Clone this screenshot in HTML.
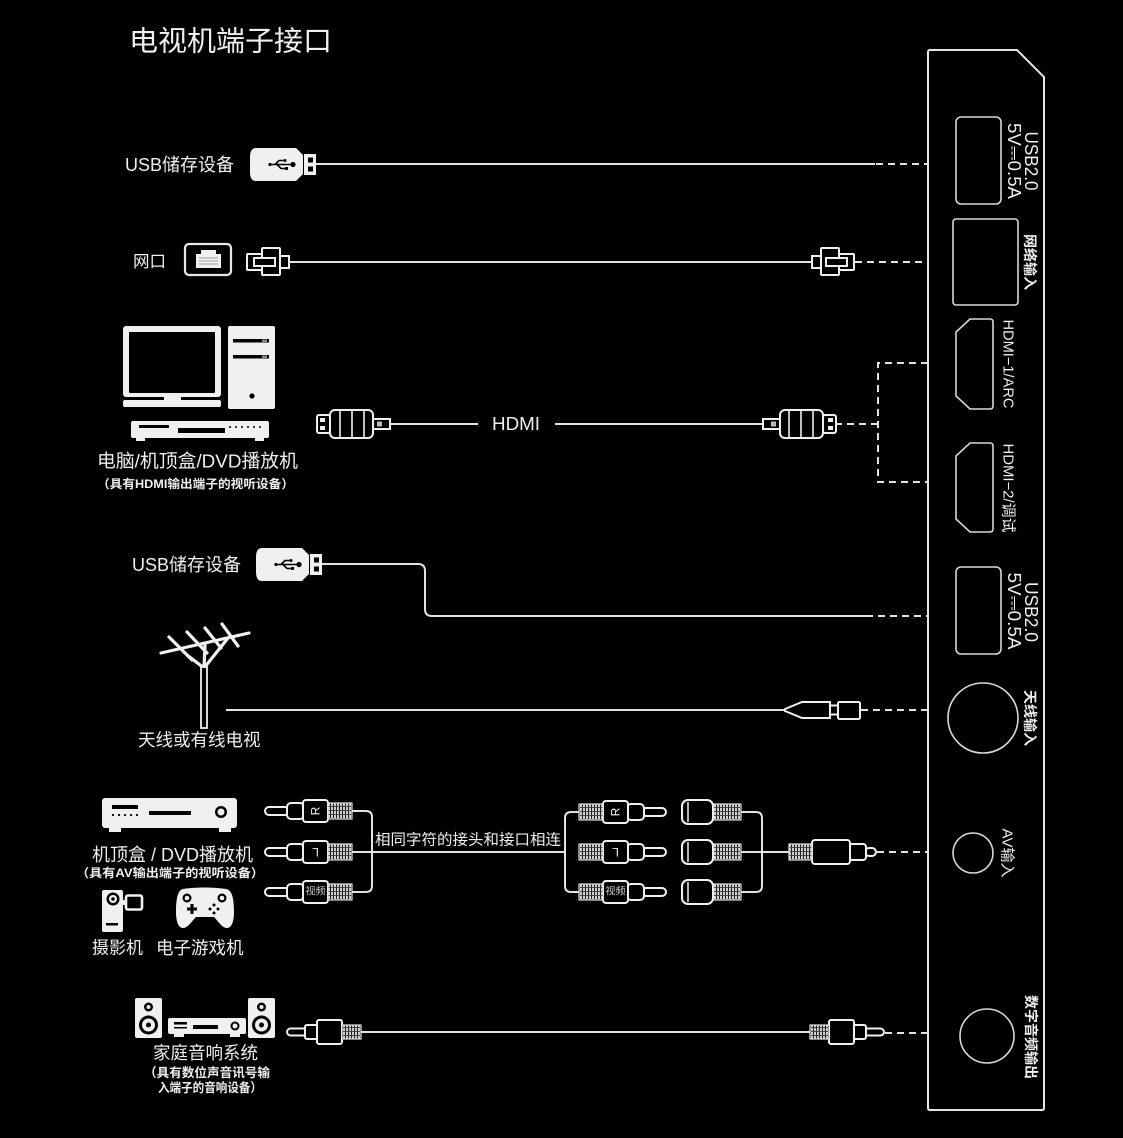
<!DOCTYPE html>
<html><head><meta charset="utf-8"><style>
html,body{margin:0;padding:0;background:#000;}
svg{display:block;}
.t{font-family:"Liberation Sans","Noto Sans CJK SC",sans-serif;fill:#efefef;}
.ln{stroke:#e2e2e2;stroke-width:2;fill:none;}
.ds{stroke:#e2e2e2;stroke-width:2;fill:none;stroke-dasharray:7 5;}
.o{stroke:#f0f0f0;stroke-width:2;fill:#000;}
.p{stroke:#d8d8d8;stroke-width:1.6;fill:none;}
.w{fill:#f0f0f0;}
.k{fill:#000;}
</style></head><body>
<svg width="1123" height="1138" viewBox="0 0 1123 1138" xmlns="http://www.w3.org/2000/svg">
<defs>
<pattern id="kn" width="3" height="4" patternUnits="userSpaceOnUse"><rect width="3" height="4" fill="#1a1a1a"/><rect width="2" height="4" fill="#cfcfcf"/><rect y="3" width="3" height="1" fill="#444"/></pattern>
<g id="rca">
 <rect x="-87" y="-4" width="24" height="8" rx="4" class="o"/>
 <rect x="-65" y="-8" width="17" height="16" rx="4" class="o"/>
 <rect x="-49" y="-11" width="25" height="22" rx="3" class="o"/>
 <rect x="-24" y="-8" width="24" height="16" fill="url(#kn)" stroke="#e0e0e0" stroke-width="1.2"/>
</g>
<g id="fem">
 <rect x="-28" y="-8" width="28" height="16" fill="url(#kn)" stroke="#e0e0e0" stroke-width="1.2"/>
 <rect x="-59" y="-12" width="31" height="24" rx="6" class="o"/>
 <line x1="-53" y1="-10" x2="-53" y2="10" stroke="#f0f0f0" stroke-width="1.5"/>
</g>
<g id="hdmi">
 <rect x="-17" y="-5" width="17" height="10" class="o"/>
 <rect x="-13" y="-2.5" width="5" height="5" fill="#bbb"/>
 <rect x="-60" y="-14" width="43" height="28" rx="5" class="o"/>
 <line x1="-50" y1="-14" x2="-50" y2="14" stroke="#f0f0f0" stroke-width="1.6"/>
 <line x1="-38" y1="-14" x2="-38" y2="14" stroke="#f0f0f0" stroke-width="1.6"/>
 <line x1="-26" y1="-14" x2="-26" y2="14" stroke="#f0f0f0" stroke-width="1.6"/>
 <rect x="-73" y="-9" width="13" height="18" rx="2" class="o"/>
 <rect x="-70" y="-6" width="5" height="4" class="w"/>
 <rect x="-70" y="2" width="5" height="4" class="w"/>
</g>
<g id="rj">
 <rect x="-42" y="-8" width="15" height="16" rx="1" class="o"/>
 <rect x="-27" y="-14" width="18" height="27" rx="1" class="o"/>
 <rect x="-9" y="-6" width="9" height="12" class="o"/>
 <rect x="-35" y="-4" width="21" height="8" class="o"/>
</g>
<g id="opt">
 <rect x="-74" y="-3.5" width="20" height="7" rx="3.5" class="o"/>
 <rect x="-56" y="-7" width="13" height="14" rx="2" class="o"/>
 <rect x="-44" y="-12" width="25" height="24" rx="2" class="o"/>
 <rect x="-19" y="-7" width="19" height="14" fill="url(#kn)" stroke="#e0e0e0" stroke-width="1.2"/>
</g>
<g id="usb">
 <path d="M6,0 H46 L53,7 V26 L46,33 H6 Q0,33 0,24 V9 Q0,0 6,0 Z" class="w"/>
 <g stroke="#000" stroke-width="1.6" fill="none">
  <line x1="20" y1="16.5" x2="41" y2="16.5"/>
  <polyline points="25,16.5 29,12.5 34,12.5"/>
  <polyline points="27,16.5 31,20.5 35,20.5"/>
 </g>
 <circle cx="43" cy="16.5" r="2.6" class="k"/>
 <circle cx="35" cy="12.5" r="1.5" class="k"/>
 <rect x="35" y="19" width="3" height="3" class="k"/>
 <circle cx="20" cy="16.5" r="1.6" class="k"/>
 <rect x="54" y="6" width="12" height="21" class="w"/>
 <rect x="58" y="9.5" width="5" height="5" class="k"/>
 <rect x="58" y="18.5" width="5" height="5" class="k"/>
</g>
</defs>
<rect width="1123" height="1138" fill="#000"/>

<!-- Title -->
<text class="t" x="129" y="41" font-size="28" dominant-baseline="central" textLength="203" lengthAdjust="spacingAndGlyphs">电视机端子接口</text>

<!-- TV panel -->
<path d="M928,52 Q928,50 930,50 H1017 L1044,77 V1108 Q1044,1110 1042,1110 H930 Q928,1110 928,1108 Z" fill="none" stroke="#e4e4e4" stroke-width="2"/>
<rect x="956" y="117" width="45" height="87" rx="5" class="p"/>
<rect x="953" y="219" width="65" height="86" rx="3" class="p"/>
<path d="M970,319 H990 Q993,319 993,322 V406 Q993,409 990,409 H970 L956,396 V332 Z" class="p"/>
<path d="M970,443 H990 Q993,443 993,446 V529 Q993,532 990,532 H970 L956,519 V456 Z" class="p"/>
<rect x="956" y="567" width="45" height="87" rx="5" class="p"/>
<circle cx="983" cy="718" r="35" class="p"/>
<circle cx="973" cy="853" r="20" class="p"/>
<circle cx="987" cy="1036" r="27" class="p"/>

<!-- panel labels -->
<g class="t" text-anchor="middle" dominant-baseline="central">
<text transform="translate(1031,161) rotate(90)" font-size="18" textLength="59" lengthAdjust="spacingAndGlyphs">USB2.0</text>
<text transform="translate(1014,161) rotate(90)" font-size="18" textLength="76" lengthAdjust="spacingAndGlyphs">5V⎓0.5A</text>
<text transform="translate(1030,262) rotate(90)" font-size="14" font-weight="bold">网络输入</text>
<text transform="translate(1008,364) rotate(90)" font-size="15" textLength="89" lengthAdjust="spacingAndGlyphs">HDMI−1/ARC</text>
<text transform="translate(1008,488) rotate(90)" font-size="15" textLength="89" lengthAdjust="spacingAndGlyphs">HDMI−2/调试</text>
<text transform="translate(1031,612) rotate(90)" font-size="18" textLength="60" lengthAdjust="spacingAndGlyphs">USB2.0</text>
<text transform="translate(1014,611) rotate(90)" font-size="18" textLength="77" lengthAdjust="spacingAndGlyphs">5V⎓0.5A</text>
<text transform="translate(1030,718) rotate(90)" font-size="14" font-weight="bold">天线输入</text>
<text transform="translate(1007,853) rotate(90)" font-size="15">AV输入</text>
<text transform="translate(1031,1037) rotate(90)" font-size="14" font-weight="bold">数字音频输出</text>
</g>

<!-- Row 1: USB -->
<text class="t" x="125" y="165" font-size="18" dominant-baseline="central">USB储存设备</text>
<use href="#usb" transform="translate(250,148)"/>
<line x1="316" y1="164" x2="875" y2="164" class="ln"/>
<line x1="876" y1="164" x2="928" y2="164" class="ds"/>

<!-- Row 2: Network -->
<text class="t" x="133" y="262" font-size="16.5" dominant-baseline="central">网口</text>
<rect x="185" y="244" width="46" height="31" rx="4" fill="#000" stroke="#e8e8e8" stroke-width="2.2"/>
<path d="M196,268 V254 H201 V250 H216 V254 H221 V268 Z" class="w"/>
<g stroke="#888" stroke-width="0.8"><line x1="199" y1="258" x2="218" y2="258"/><line x1="199" y1="261" x2="218" y2="261"/><line x1="199" y1="264" x2="218" y2="264"/></g>
<use href="#rj" transform="translate(289,262)"/>
<line x1="289" y1="262" x2="812" y2="262" class="ln"/>
<use href="#rj" transform="translate(812,262) scale(-1,1)"/>
<line x1="855" y1="262" x2="928" y2="262" class="ds"/>

<!-- Row 3: HDMI devices -->
<rect x="123" y="326" width="98" height="71" rx="3" class="w"/>
<rect x="129" y="332" width="86" height="61" rx="1" class="k"/>
<rect x="164" y="396" width="17" height="5" class="w"/>
<rect x="123" y="400" width="98" height="7" rx="2" class="w"/>
<rect x="228" y="326" width="47" height="83" rx="2" class="w"/>
<rect x="233" y="339" width="36" height="3.5" class="k"/>
<rect x="233" y="355" width="36" height="3.5" class="k"/>
<rect x="262" y="339.5" width="5" height="2.5" fill="#888"/>
<rect x="262" y="355.5" width="5" height="2.5" fill="#888"/>
<circle cx="252" cy="396" r="2.6" class="k"/>
<rect x="131" y="421" width="138" height="17" rx="2" class="w"/>
<rect x="139" y="425" width="30" height="3" class="k"/>
<rect x="178" y="428" width="47" height="5" class="k"/>
<g class="k"><circle cx="230" cy="427" r="1"/><circle cx="236" cy="427" r="1"/><circle cx="242" cy="427" r="1"/><circle cx="248" cy="427" r="1"/><circle cx="254" cy="427" r="1"/><circle cx="260" cy="427" r="1"/></g>
<rect x="136" y="437" width="9" height="4" class="w"/>
<rect x="255" y="437" width="9" height="4" class="w"/>
<text class="t" x="97" y="461" font-size="18.5" dominant-baseline="central" textLength="201" lengthAdjust="spacingAndGlyphs">电脑/机顶盒/DVD播放机</text>
<text class="t" x="97" y="484" font-size="12" font-weight="bold" dominant-baseline="central" textLength="197" lengthAdjust="spacingAndGlyphs">（具有HDMI输出端子的视听设备）</text>

<use href="#hdmi" transform="translate(390,424)"/>
<line x1="390" y1="424" x2="478" y2="424" class="ln"/>
<text class="t" x="516" y="424" font-size="18" text-anchor="middle" dominant-baseline="central" textLength="48" lengthAdjust="spacingAndGlyphs">HDMI</text>
<line x1="555" y1="424" x2="763" y2="424" class="ln"/>
<use href="#hdmi" transform="translate(763,424) scale(-1,1)"/>
<line x1="835" y1="424" x2="878" y2="424" class="ds"/>
<path d="M928,363 H878 V482 H928" class="ds"/>

<!-- Row 4: USB 2 -->
<text class="t" x="132" y="565" font-size="18" dominant-baseline="central">USB储存设备</text>
<use href="#usb" transform="translate(256,548)"/>
<path d="M322,564 H418 Q425,564 425,571 V609 Q425,616 432,616 H866" class="ln"/>
<line x1="866" y1="616" x2="928" y2="616" class="ds"/>

<!-- Row 5: Antenna -->
<g stroke="#f0f0f0" stroke-width="3.2" stroke-linecap="round" fill="none">
<line x1="161" y1="653" x2="249" y2="633"/>
<line x1="169" y1="637" x2="192" y2="660"/>
<line x1="187" y1="632" x2="207" y2="653"/>
<line x1="205" y1="628" x2="221" y2="648"/>
<line x1="222" y1="624" x2="238" y2="646"/>
<polyline points="187,655 204,668 228,638"/>
<line x1="204" y1="668" x2="205" y2="645"/>
</g>
<rect x="201" y="667" width="6" height="61" fill="#000" stroke="#f0f0f0" stroke-width="1.8"/>
<text class="t" x="138" y="740" font-size="17.5" dominant-baseline="central">天线或有线电视</text>
<line x1="226" y1="710" x2="786" y2="710" class="ln"/>
<path d="M785,709 L802,702 H830 V718 H802 L785,711 Z" class="o"/>
<rect x="830" y="705.5" width="8" height="9" class="o"/>
<rect x="838" y="702" width="22" height="17" rx="1.5" class="o"/>
<line x1="861" y1="710" x2="928" y2="710" class="ds"/>

<!-- Row 6: AV -->
<rect x="102" y="798" width="135" height="30" rx="3" class="w"/>
<rect x="112" y="805" width="26" height="4" class="k"/>
<g class="k"><circle cx="113" cy="815" r="1.1"/><circle cx="119" cy="815" r="1.1"/><circle cx="125" cy="815" r="1.1"/><circle cx="131" cy="815" r="1.1"/><circle cx="137" cy="815" r="1.1"/></g>
<rect x="149" y="811" width="42" height="4" class="k"/>
<circle cx="221" cy="812" r="6" class="k"/><circle cx="221" cy="812" r="3.5" class="w"/>
<rect x="109" y="827" width="12" height="5" class="w"/>
<rect x="219" y="827" width="12" height="5" class="w"/>
<text class="t" x="92" y="855" font-size="18" dominant-baseline="central" textLength="161" lengthAdjust="spacingAndGlyphs">机顶盒 / DVD播放机</text>
<text class="t" x="76" y="873" font-size="12" font-weight="bold" dominant-baseline="central" textLength="188" lengthAdjust="spacingAndGlyphs">（具有AV输出端子的视听设备）</text>

<!-- camcorder -->
<rect x="102" y="890" width="21" height="42" rx="2" class="w"/>
<circle cx="113" cy="899" r="6.5" class="k"/><circle cx="113" cy="899" r="4" class="w"/><circle cx="113" cy="899" r="1.8" class="k"/>
<rect x="106" y="923" width="12" height="2.5" class="k"/>
<rect x="123" y="900" width="3" height="5" class="w"/>
<rect x="126" y="895.5" width="16" height="14" rx="2" fill="#000" stroke="#f0f0f0" stroke-width="2.6"/>
<!-- controller -->
<path d="M183,889 C195,887 214,887 226,889 C232,890 234,898 234,912 C234,923 231,928 227,928 C222,928 218,921 214,917 L196,917 C192,921 188,928 183,928 C179,928 176,923 176,912 C176,898 178,890 183,889 Z" class="w"/>
<circle cx="187" cy="898" r="4.5" class="k"/><circle cx="187" cy="898" r="2.3" class="w"/>
<circle cx="222" cy="898" r="4.5" class="k"/><circle cx="222" cy="898" r="2.3" class="w"/>
<rect x="190.5" y="904" width="3" height="10" class="k"/><rect x="187" y="907.5" width="10" height="3" class="k"/>
<circle cx="214" cy="905" r="1.5" class="k"/><circle cx="214" cy="913" r="1.5" class="k"/><circle cx="210" cy="909" r="1.5" class="k"/><circle cx="218" cy="909" r="1.5" class="k"/>
<text class="t" x="92" y="948" font-size="17" dominant-baseline="central">摄影机</text>
<text class="t" x="156" y="948" font-size="17.5" dominant-baseline="central">电子游戏机</text>

<!-- left RCA plugs -->
<use href="#rca" transform="translate(352,811)"/>
<use href="#rca" transform="translate(352,852)"/>
<use href="#rca" transform="translate(352,892)"/>
<g class="t" text-anchor="middle" dominant-baseline="central">
<text transform="translate(315.5,811) rotate(-90)" font-size="12">R</text>
<text transform="translate(315.5,852) rotate(180)" font-size="12">L</text>
<text x="315.5" y="892" font-size="10" fill="#ccc">视频</text>
</g>
<path d="M352,811 H366 Q372,811 372,817 V886 Q372,892 366,892 H352" class="ln"/>
<line x1="352" y1="852" x2="565" y2="852" class="ln"/>
<text class="t" x="375" y="840" font-size="15" dominant-baseline="central" textLength="186" lengthAdjust="spacingAndGlyphs">相同字符的接头和接口相连</text>
<path d="M579,812 H571 Q565,812 565,818 V886 Q565,892 571,892 H579" class="ln"/>
<use href="#rca" transform="translate(579,812) scale(-1,1)"/>
<use href="#rca" transform="translate(579,852) scale(-1,1)"/>
<use href="#rca" transform="translate(579,892) scale(-1,1)"/>
<g class="t" text-anchor="middle" dominant-baseline="central">
<text transform="translate(615.5,812) rotate(-90)" font-size="12">R</text>
<text transform="translate(615.5,852) rotate(180)" font-size="12">L</text>
<text x="615.5" y="892" font-size="10" fill="#ccc">视频</text>
</g>
<use href="#fem" transform="translate(741,812)"/>
<use href="#fem" transform="translate(741,852)"/>
<use href="#fem" transform="translate(741,892)"/>
<path d="M741,812 H756 Q762,812 762,818 V886 Q762,892 756,892 H741" class="ln"/>
<line x1="741" y1="852" x2="789" y2="852" class="ln"/>
<rect x="865" y="848" width="11" height="8" rx="4" class="o"/>
<rect x="849" y="844" width="17" height="16" rx="3" class="o"/>
<rect x="812" y="840" width="38" height="24" rx="3" class="o"/>
<rect x="789" y="844" width="23" height="16" fill="url(#kn)" stroke="#e0e0e0" stroke-width="1.2"/>
<line x1="877" y1="852" x2="928" y2="852" class="ds"/>

<!-- Row 7: Audio -->
<rect x="135" y="998" width="27" height="40" rx="2" class="w"/>
<circle cx="148.5" cy="1007" r="4.5" class="k"/><circle cx="148.5" cy="1007" r="2" class="w"/>
<circle cx="148.5" cy="1025" r="9.5" class="k"/><circle cx="148.5" cy="1025" r="6.5" class="w"/><circle cx="148.5" cy="1025" r="2.5" class="k"/>
<rect x="248" y="998" width="27" height="40" rx="2" class="w"/>
<circle cx="261.5" cy="1007" r="4.5" class="k"/><circle cx="261.5" cy="1007" r="2" class="w"/>
<circle cx="261.5" cy="1025" r="9.5" class="k"/><circle cx="261.5" cy="1025" r="6.5" class="w"/><circle cx="261.5" cy="1025" r="2.5" class="k"/>
<rect x="168" y="1018" width="78" height="16" rx="2" class="w"/>
<rect x="174" y="1022" width="13" height="2.5" class="k"/>
<rect x="174" y="1027" width="13" height="1.5" class="k"/>
<rect x="193" y="1025" width="25" height="4" class="k"/>
<circle cx="235" cy="1026" r="4.5" class="k"/><circle cx="235" cy="1026" r="2.5" class="w"/>
<rect x="174" y="1033" width="10" height="4" class="w"/>
<rect x="230" y="1033" width="10" height="4" class="w"/>
<text class="t" x="153" y="1053" font-size="17.5" dominant-baseline="central">家庭音响系统</text>
<text class="t" x="144" y="1073" font-size="12.5" font-weight="bold" dominant-baseline="central" textLength="126" lengthAdjust="spacingAndGlyphs">（具有数位声音讯号输</text>
<text class="t" x="158" y="1088" font-size="12.5" font-weight="bold" dominant-baseline="central" textLength="104" lengthAdjust="spacingAndGlyphs">入端子的音响设备）</text>
<use href="#opt" transform="translate(361,1032)"/>
<line x1="361" y1="1032" x2="810" y2="1032" class="ln"/>
<use href="#opt" transform="translate(810,1032) scale(-1,1)"/>
<line x1="885" y1="1033" x2="928" y2="1033" class="ds"/>
</svg>
</body></html>
